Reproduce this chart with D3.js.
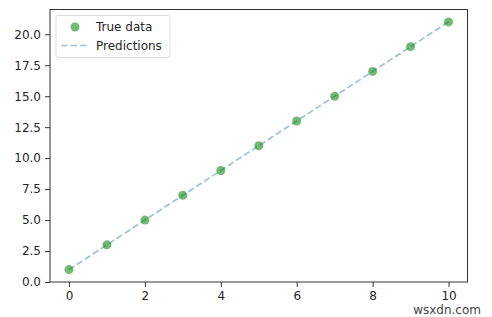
<!DOCTYPE html>
<html lang="en">
<head>
    <meta charset="UTF-8">
    <title>True data vs Predictions</title>
    <script src="https://d3js.org/d3.v7.min.js"></script>
    <style>
        body { margin: 0; background: #fff; }
        text { font-family: "DejaVu Sans", sans-serif; fill: #262626; }
    </style>
</head>
<body>
    <svg width="492" height="317"></svg>

    <script>
        // Data
        const xValues = [0, 1, 2, 3, 4, 5, 6, 7, 8, 9, 10];
        const trueData = [1, 3, 5, 7, 9, 11, 13, 15, 17, 19, 21];
        const predictions = [1, 3, 5, 7, 9, 11, 13, 15, 17, 19, 21];
        const xTicks = [0, 2, 4, 6, 8, 10];
        const yTicks = [0, 2.5, 5, 7.5, 10, 12.5, 15, 17.5, 20];
        const legendLabels = ["True data", "Predictions"];

        const svg = d3.select("svg");
        const margin = { left: 50, top: 9.5, right: 24.5, bottom: 35 };
        const width = 492 - margin.left - margin.right;
        const height = 317 - margin.top - margin.bottom;

        const g = svg.append("g")
            .attr("transform", `translate(${margin.left},${margin.top})`);

        const x = d3.scaleLinear().domain([-0.5, 10.5]).range([0, width]);
        const y = d3.scaleLinear().domain([0, 22]).range([height, 0]);

        // Axes
        const xAxis = g.append("g")
            .attr("transform", `translate(0,${height})`)
            .call(d3.axisBottom(x).tickValues(xTicks).tickSize(5).tickPadding(4).tickFormat(d3.format("d")));
        const yAxis = g.append("g")
            .call(d3.axisLeft(y).tickValues(yTicks).tickSize(5).tickPadding(4).tickFormat(d3.format(".1f")));

        [xAxis, yAxis].forEach(a => {
            a.select(".domain").remove();
            a.selectAll(".tick line").attr("stroke", "#333");
            a.selectAll(".tick text")
                .style("font-family", "'DejaVu Sans', sans-serif")
                .style("font-size", "12px")
                .attr("fill", "#262626");
        });

        // Frame (all four spines)
        g.append("rect")
            .attr("x", 0).attr("y", 0)
            .attr("width", width).attr("height", height)
            .attr("fill", "none")
            .attr("stroke", "#333")
            .attr("stroke-width", 1);

        // Predictions line
        const line = d3.line()
            .x((d, i) => x(xValues[i]))
            .y(d => y(d));

        g.append("path")
            .datum(predictions)
            .attr("d", line)
            .attr("fill", "none")
            .attr("stroke", "#1f77b4")
            .attr("stroke-opacity", 0.45)
            .attr("stroke-width", 1.7)
            .attr("stroke-dasharray", "6.5,3");

        // True data points
        g.selectAll(".dot")
            .data(trueData)
            .enter().append("circle")
            .attr("class", "dot")
            .attr("cx", (d, i) => x(xValues[i]))
            .attr("cy", d => y(d))
            .attr("r", 4.5)
            .attr("fill", "#008000")
            .attr("fill-opacity", 0.55);

        // Legend
        const legend = g.append("g").attr("transform", "translate(6,6)");
        legend.append("rect")
            .attr("width", 114).attr("height", 42)
            .attr("rx", 2)
            .attr("fill", "#fff")
            .attr("fill-opacity", 0.8)
            .attr("stroke", "#ddd");

        legend.append("circle")
            .attr("cx", 19).attr("cy", 11.5).attr("r", 4.5)
            .attr("fill", "#008000").attr("fill-opacity", 0.55);
        legend.append("line")
            .attr("x1", 5).attr("x2", 31).attr("y1", 30).attr("y2", 30)
            .attr("stroke", "#1f77b4").attr("stroke-opacity", 0.45)
            .attr("stroke-width", 1.7).attr("stroke-dasharray", "6.5,3");

        legend.selectAll(".lbl")
            .data(legendLabels)
            .enter().append("text")
            .attr("class", "lbl")
            .attr("x", 40)
            .attr("y", (d, i) => 11.5 + i * 18.5)
            .attr("dy", "0.35em")
            .style("font-size", "12px")
            .text(d => d);

        // Watermark seen in the picture
        svg.append("text")
            .attr("x", 481).attr("y", 314)
            .attr("text-anchor", "end")
            .style("font-size", "12px")
            .style("fill", "#444")
            .text("wsxdn.com");
    </script>
</body>
</html>
